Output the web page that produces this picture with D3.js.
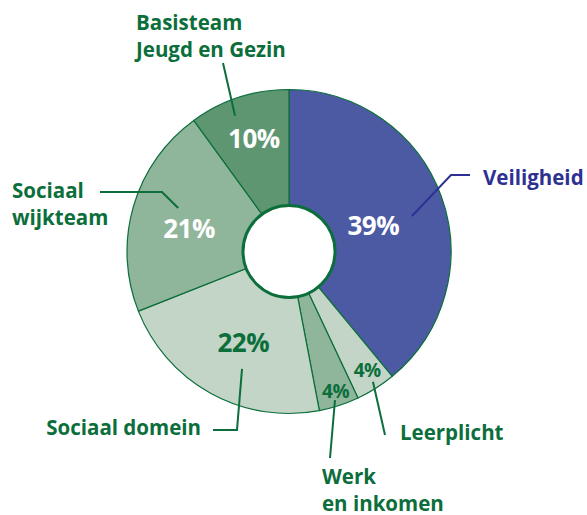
<!DOCTYPE html>
<html>
<head>
<meta charset="utf-8">
<script src="https://cdn.jsdelivr.net/npm/d3@7"></script>
<style>
  html, body { margin: 0; padding: 0; background: #fff; }
  svg text { font-family: "Open Sans", "DejaVu Sans", sans-serif; font-weight: 700; }
</style>
</head>
<body>
<div id="chart"></div>
<script>
// Verdeling per domein (procenten), met de klok mee vanaf 12 uur
const categories = ['Veiligheid', 'Leerplicht', 'Werk en inkomen', 'Sociaal domein', 'Sociaal wijkteam', 'Basisteam Jeugd en Gezin'];
const values = [39, 4, 4, 22, 21, 10];
const labelLines = [['Veiligheid'], ['Leerplicht'], ['Werk', 'en inkomen'], ['Sociaal domein'], ['Sociaal', 'wijkteam'], ['Basisteam', 'Jeugd en Gezin']];

(function() {
  const width = 587;
  const height = 515;
  const cx = 289, cy = 251.5;
  const outerR = 162, innerR = 46;
  const green = '#0b6e3b';

  const fills = ['#4b5aa3', '#c3d5c6', '#8fb59a', '#c3d5c6', '#8fb59a', '#5e9672'];
  const pctColor = ['#fff', green, green, green, '#fff', '#fff'];
  const pctSize = [26, 19, 19, 26, 26, 26];
  const nameColor = ['#2e3192', green, green, green, green, green];
  const lineColor = ['#2e3192', green, green, green, green, green];

  // label placement: [angle offset deg, radius] for percentage, leader start, bend points, text spot
  const layout = [
    { pct: [3, 88],  start: [3.7, 128],  pts: [[451, 175], [470, 175]], text: [483, 185], anchor: 'start' },
    { pct: [-1, 142], start: [-0.4, 155], pts: [[385, 435]], text: [400, 440], anchor: 'start' },
    { pct: [-0.4, 147.5], start: [0.8, 155.5], pts: [[330, 458]], text: [322, 484], anchor: 'start' },
    { pct: [-2.2, 102], start: [-7, 126.5], pts: [[237, 430], [213, 430]], text: [201, 435], anchor: 'end' },
    { pct: [-3.5, 102.5], start: [5.2, 119], pts: [[162, 192], [100, 192]], text: [12, 198], anchor: 'start' },
    { pct: [0.7, 118], start: [-3.7, 146], pts: [[223, 63]], text: [136, 30], anchor: 'start' }
  ];
  const lineGap = 27;

  const svg = d3.select('#chart')
    .append('svg')
    .attr('width', width)
    .attr('height', height)
    .attr('viewBox', `0 0 ${width} ${height}`);

  const g = svg.append('g').attr('transform', `translate(${cx},${cy})`);

  const pie = d3.pie().sort(null).value(d => d);
  const arcs = pie(values);
  const arc = d3.arc().innerRadius(0).outerRadius(outerR);

  const polar = (angleRad, r) => [Math.sin(angleRad) * r, -Math.cos(angleRad) * r];
  const mid = d => (d.startAngle + d.endAngle) / 2;
  const deg = Math.PI / 180;

  g.selectAll('path.slice')
    .data(arcs)
    .enter()
    .append('path')
    .attr('class', 'slice')
    .attr('d', arc)
    .attr('fill', (d, i) => fills[i])
    .attr('stroke', green)
    .attr('stroke-width', 1.2)
    .attr('stroke-linejoin', 'round');

  g.append('circle')
    .attr('r', innerR)
    .attr('fill', '#fff')
    .attr('stroke', green)
    .attr('stroke-width', 3);

  // leader lines
  svg.append('g')
    .selectAll('polyline')
    .data(arcs)
    .enter()
    .append('polyline')
    .attr('points', (d, i) => {
      const L = layout[i];
      const p = polar(mid(d) + L.start[0] * deg, L.start[1]);
      return [[cx + p[0], cy + p[1]]].concat(L.pts).map(q => q.join(',')).join(' ');
    })
    .attr('fill', 'none')
    .attr('stroke', (d, i) => lineColor[i])
    .attr('stroke-width', 2);

  // percentages
  g.selectAll('text.pct')
    .data(arcs)
    .enter()
    .append('text')
    .attr('class', 'pct')
    .attr('transform', (d, i) => {
      const p = polar(mid(d) + layout[i].pct[0] * deg, layout[i].pct[1]);
      return `translate(${p[0]},${p[1]})`;
    })
    .attr('text-anchor', 'middle')
    .attr('dy', '0.36em')
    .attr('fill', (d, i) => pctColor[i])
    .style('font-size', (d, i) => pctSize[i] + 'px')
    .style('letter-spacing', '-0.5px')
    .text(d => d.data + '%');

  // category names
  const names = svg.append('g')
    .selectAll('text')
    .data(categories)
    .enter()
    .append('text')
    .attr('x', (d, i) => layout[i].text[0])
    .attr('y', (d, i) => layout[i].text[1])
    .attr('text-anchor', (d, i) => layout[i].anchor)
    .attr('fill', (d, i) => nameColor[i])
    .style('font-size', '20.5px');

  names.selectAll('tspan')
    .data((d, i) => labelLines[i].map(t => ({ t, x: layout[i].text[0] })))
    .enter()
    .append('tspan')
    .attr('x', d => d.x)
    .attr('dy', (d, j) => j === 0 ? 0 : lineGap)
    .text(d => d.t);
})();
</script>
</body>
</html>
